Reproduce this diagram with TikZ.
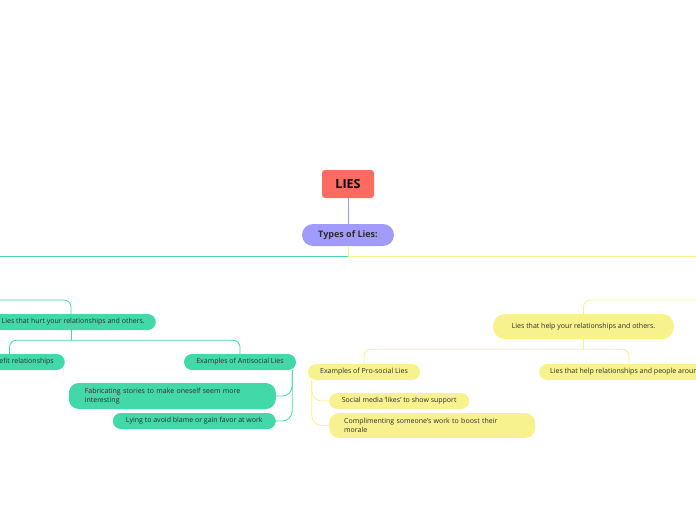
\documentclass[tikz,border=0pt]{standalone}
\usepackage{fontspec}
\setmainfont{Open Sans}
\usetikzlibrary{calc}
\definecolor{cred}{HTML}{FF6B61}
\definecolor{cpur}{HTML}{A29BFE}
\definecolor{cgrn}{HTML}{43D8A8}
\definecolor{cyel}{HTML}{F7F18E}
\definecolor{ctxt}{HTML}{2D2D2D}
\tikzset{
  base/.style={inner ysep=0pt, text=ctxt, font=\fontsize{7}{9}\selectfont},
  gpill/.style={base, fill=cgrn, rounded corners=8pt, minimum height=16pt, inner xsep=11pt},
  ypill/.style={base, fill=cyel, rounded corners=8pt, minimum height=16pt, inner xsep=11pt},
  gline/.style={draw=cgrn, line width=0.8pt},
  yline/.style={draw=cyel, line width=0.8pt},
  rc/.style={rounded corners=7pt},
}
\begin{document}
\begin{tikzpicture}[x=1pt,y=-1pt]
\useasboundingbox (0,0) rectangle (696,520);
\clip (0,0) rectangle (696,520);

% central nodes
\node[fill=cred, rounded corners=3pt, minimum width=52pt, minimum height=28pt, inner sep=0pt,
      font=\fontsize{12.5}{14}\selectfont\bfseries, text=black] (lies) at (348,184) {LIES};
\node[fill=cpur, rounded corners=11pt, minimum width=92pt, minimum height=22pt, inner sep=0pt,
      font=\fontsize{9}{11}\selectfont\bfseries, text=ctxt] (types) at (348,235) {Types of Lies:};
\draw[draw=cpur, line width=0.8pt] (lies) -- (types);

\coordinate (hub) at (348,256);
\coordinate (lend) at (0,256);
\coordinate (rend) at (696,256);
\draw[yline] (types.south) -- (hub);
\draw[gline] (hub) -- (lend);
\draw[yline] (hub) -- (rend);

% left branch
\node[gpill, anchor=east] (hurt) at (156,322) {Lies that hurt your relationships and others.};
\node[gpill, anchor=east] (benefit) at (65,362) {Lies that benefit relationships};
\node[gpill, minimum width=112pt] (anti) at (240,362) {Examples of Antisocial Lies};
\node[base, fill=cgrn, rounded corners=10pt, minimum height=26pt, minimum width=207pt,
      text width=175pt, inner xsep=16pt, align=left, anchor=east] (fab) at (276,396)
      {Fabricating stories to make oneself seem more\\interesting};
\node[gpill, minimum width=163pt, anchor=east] (lying) at (276,421) {Lying to avoid blame or gain favor at work};

\coordinate (l1) at (0,300);
\coordinate (hurttop) at ([xshift=-85pt]hurt.north east);
\coordinate (hurtbot) at ([xshift=-85pt]hurt.south east);
\coordinate (hj) at ([yshift=-10pt]hurtbot);
\coordinate (bentop) at ([xshift=-55.5pt]benefit.north east);
\coordinate (aj) at ([xshift=-4pt]anti.south east);
\draw[gline, rc] (l1) -| (hurttop);
\draw[gline] (hurtbot) -- (hj);
\draw[gline, rc] (hj) -| (bentop);
\draw[gline, rc] (hj) -| (anti.north);
\draw[gline, rounded corners=10pt] (aj) |- (fab.east);
\draw[gline, rounded corners=10pt] (aj) |- (lying.east);

% right branch
\node[base, fill=cyel, rounded corners=12pt, minimum width=181pt, minimum height=25pt] (help) at (583.5,326.5)
      {Lies that help your relationships and others.};
\node[ypill, minimum width=112pt] (pro) at (364,372) {Examples of Pro-social Lies};
\node[ypill, anchor=west] (aro) at (539,372) {Lies that help relationships and people around you};
\node[ypill, minimum width=140pt, anchor=west] (social) at (329,401) {Social media `likes' to show support};
\node[base, fill=cyel, rounded corners=10pt, minimum height=25pt, minimum width=206pt,
      text width=176pt, inner xsep=15pt, align=left, anchor=west] (comp) at (329,425.5)
      {Complimenting someone's work to boost their\\morale};

\coordinate (r1) at (696,300);
\coordinate (rj) at ([yshift=-10pt]help.south);
\coordinate (arotop) at ([xshift=90pt]aro.north west);
\coordinate (pj) at ([xshift=4pt]pro.south west);
\draw[yline, rc] (r1) -| (help.north);
\draw[yline] (help.south) -- (rj);
\draw[yline, rc] (rj) -| (pro.north);
\draw[yline, rc] (rj) -| (arotop);
\draw[yline, rounded corners=10pt] (pj) |- (social.west);
\draw[yline, rounded corners=10pt] (pj) |- (comp.west);
\end{tikzpicture}
\end{document}
